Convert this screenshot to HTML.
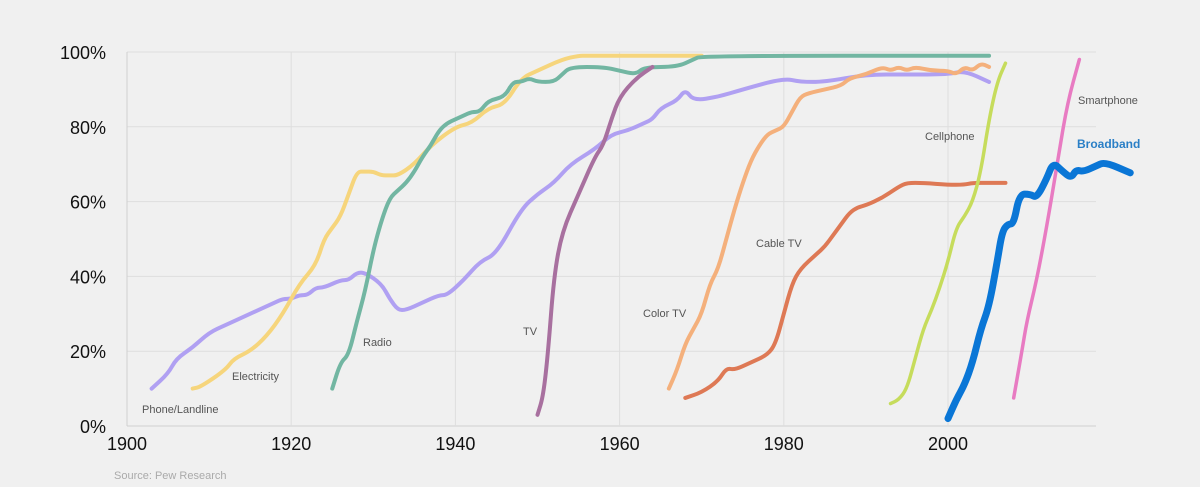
<!DOCTYPE html>
<html><head><meta charset="utf-8"><style>
html,body{margin:0;padding:0;background:#f0f0f0;}
svg{display:block;font-family:"Liberation Sans","DejaVu Sans",sans-serif;}
</style></head><body>
<svg id="chart" width="1200" height="487" viewBox="0 0 1200 487" xmlns="http://www.w3.org/2000/svg">
<rect width="1200" height="487" fill="#f0f0f0"/>
<g id="grid"></g>
<g id="axes"></g>
<g id="series"></g>
<g id="labels"></g>
<text x="114" y="479" font-size="11" fill="#aaaaaa">Source:  Pew Research</text>
</svg>
<script>
const xTicks = [1900, 1920, 1940, 1960, 1980, 2000];
const yTicks = [0, 20, 40, 60, 80, 100];
const yTickLabels = ["0%", "20%", "40%", "60%", "80%", "100%"];
const phoneYears = [1903,1905,1906,1908,1910,1912,1915,1918,1919,1920,1921,1922,1923,1924,1926,1927,1928,1929,1931,1932,1933,1934,1936,1938,1939,1941,1943,1945,1948,1950,1952,1954,1957,1959,1961,1963,1964,1965,1967,1968,1969,1972,1975,1980,1982,1985,1990,1995,2000,2002,2005];
const phoneValues = [10,14,18,21,25,27,30,33,34,34,35,35,37,37,39,39,41,41,38,34,31,31,33,35,35,39,44,46,58,62,65,70,74,78,79,81,82,85,87,90,87,88,90,93,92,92,94,94,94,95,92];
const elecYears = [1908,1909,1912,1913,1915,1917,1919,1921,1923,1924,1925,1926,1927,1928,1929,1930,1931,1932,1933,1935,1937,1940,1942,1944,1946,1948,1950,1953,1955,1956,1970];
const elecValues = [10,10.5,15,18,20,24,30,38,43,50,53,56,62,68,68,68,67,67,67,70,75,80,81,85,86,93,95,98,99,99,99];
const radioYears = [1925,1926,1927,1928,1929,1930,1931,1932,1933,1934,1935,1936,1937,1938,1939,1940,1941,1942,1943,1944,1946,1947,1948,1949,1950,1952,1953,1954,1958,1960,1962,1963,1967,1969,1970,2005];
const radioValues = [10,17,19,28,36,47,55,61,63,65,68,72,75,79,81,82,83,84,84,87,88,92,92,93,92,92,94,96,96,95,94,96,96,98,99,99];
const tvYears = [1950,1950.7,1951.3,1952,1953,1955,1957,1958,1959,1960,1962,1964];
const tvValues = [3,8,20,40,52,62,72,75,82,88,93,96];
const colorYears = [1966,1967,1968,1969,1970,1971,1972,1973,1974,1975,1976,1977,1978,1979,1980,1981,1982,1983,1985,1987,1988,1990,1992,1993,1994,1995,1996,1998,2000,2001,2002,2003,2004,2005];
const colorValues = [10,15,22,26,30,38,42,50,58,65,71,75,78,79,80,84,88,89,90,91,93,94,96,95,96,95,96,95,95,94,96,95,97,96];
const cableYears = [1968,1970,1972,1973,1974,1976,1978,1979,1980,1981,1982,1984,1985,1986,1987,1988,1989,1990,1992,1994,1995,1997,2000,2002,2003,2005,2007];
const cableValues = [7.5,9,12,15.5,15,17,19,22,30,38,42,46,48,51,54,57,58.5,59,61,64,65,65,64.5,64.5,65,65,65];
const cellYears = [1993,1994,1995,1996,1997,1998,1999,2000,2001,2002,2003,2004,2005,2006,2007];
const cellValues = [6,7,10,18,26,31,37,44,53,56,60,68,82,92,97];
const broadYears = [2000,2001,2002,2003,2004,2005,2006,2006.6,2007.3,2008,2008.7,2010,2010.8,2012,2012.8,2014,2015,2015.6,2016.5,2018,2019.1,2022.2];
const broadValues = [2,7,11,17,26,32,44,52,54,54,62,62,61,66,70.5,68,66.3,68.5,68,69.5,70.6,67.7];
const smartYears = [2008,2009,2009.6,2010.8,2012,2013.3,2014.5,2016];
const smartValues = [7.5,20,28,39,53,70,86,98];

const X0=127, X1=1096, Y0=426, Y1=52;
function xs(y){return X0+(y-1900)*8.21;}
function ys(v){return Y0-(v/100)*(Y0-Y1);}
const NS="http://www.w3.org/2000/svg";
function mk(t,a,p){const e=document.createElementNS(NS,t);for(const k in a)e.setAttribute(k,a[k]);p.appendChild(e);return e;}
const grid=document.getElementById('grid'), axes=document.getElementById('axes'), series=document.getElementById('series'), labels=document.getElementById('labels');
yTicks.forEach((v,i)=>{
  const l=mk('line',{x1:X0,x2:X1,y1:ys(v),y2:ys(v),stroke:v===0?'#cfcfcf':'#dedede','stroke-width':1},grid);
  
  
  const t=mk('text',{x:106,y:ys(v)+7,'text-anchor':'end','font-size':18,fill:'#111'},axes);
  t.textContent=yTickLabels[i];
  
  
});
xTicks.forEach(v=>{
  const l=mk('line',{x1:xs(v),x2:xs(v),y1:Y1,y2:Y0,stroke:v===1900?'#cfcfcf':'#dedede','stroke-width':1},grid);
  
  
  const t=mk('text',{x:xs(v),y:450,'text-anchor':'middle','font-size':18,fill:'#111'},axes);
  t.textContent=String(v);
  
  
});
function path(xa,va){
  let d='';
  for(let i=0;i<xa.length;i++){
    const x=xs(xa[i]),y=ys(va[i]);
    if(i===0){d+='M'+x+' '+y;continue;}
    const xp=xs(xa[i-1]),yp=ys(va[i-1]);
    const mx=(xp+x)/2;
    d+=' Q'+xp+' '+yp+' '+mx+' '+((yp+y)/2);
  }
  d+=' L'+xs(xa[xa.length-1])+' '+ys(va[va.length-1]);
  return d;
}
function draw(name,xa,va,color,w){
  const p=mk('path',{d:path(xa,va),fill:'none',stroke:color,'stroke-width':w,'stroke-linecap':'round','stroke-linejoin':'round'},series);
  
  
}
draw('phone-line',phoneYears,phoneValues,'#b0a0f2',4);
draw('electricity-line',elecYears,elecValues,'#f6d57c',4);
draw('radio-line',radioYears,radioValues,'#72b6a2',4);
draw('tv-line',tvYears,tvValues,'#a8709f',4);
draw('color-tv-line',colorYears,colorValues,'#f4b07c',4);
draw('cable-tv-line',cableYears,cableValues,'#de7955',4);
draw('cellphone-line',cellYears,cellValues,'#c6dc5c',3.5);
draw('smartphone-line',smartYears,smartValues,'#e87bc2',3.5);
draw('broadband-line',broadYears,broadValues,'#0a76d6',7);
const lab=[["Phone/Landline",142,413,'#555','normal','phone-label'],["Electricity",232,380,'#555','normal','electricity-label'],["Radio",363,346,'#555','normal','radio-label'],["TV",523,335,'#555','normal','tv-label'],["Color  TV",643,317,'#555','normal','color-tv-label'],["Cable  TV",756,247,'#555','normal','cable-tv-label'],["Cellphone",925,140,'#555','normal','cellphone-label'],["Smartphone",1078,104,'#555','normal','smartphone-label'],["Broadband",1077,148,'#2a7fc6','bold','broadband-label']];
lab.forEach(a=>{
  const t=mk('text',{x:a[1],y:a[2],'font-size':a[8]||11,fill:a[3],'font-weight':a[4]},labels);
  t.textContent=a[0];
  if(a[5]==='broadband-label')t.setAttribute('font-size',12);
  
  
});
</script>
</body></html>
